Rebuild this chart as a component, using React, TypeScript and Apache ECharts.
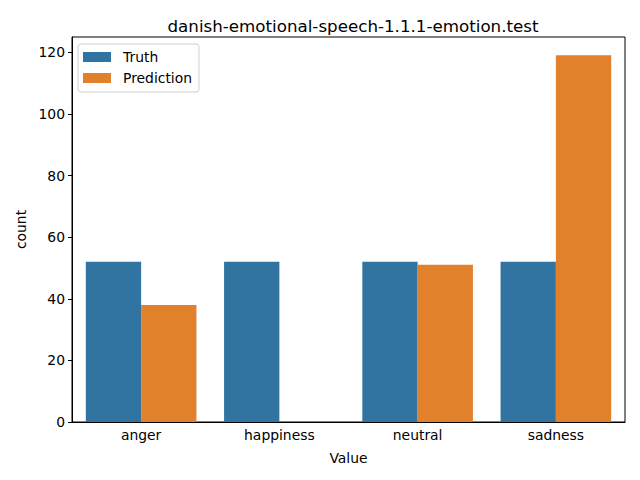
import React, { useEffect, useRef } from "react";
import * as echarts from "echarts";

const categories = ["anger", "happiness", "neutral", "sadness"];
const truthValues = [52, 52, 52, 52];
const predictionValues = [38, 0, 51, 119];
const yTicks = { min: 0, max: 124.95, interval: 20 };

const FONT = "DejaVu Sans";

export default function App() {
  const ref = useRef<HTMLDivElement>(null);
  useEffect(() => {
    if (!ref.current) return;
    const chart = echarts.init(ref.current, null, { renderer: "svg" });
    chart.setOption({
      animation: false,
      backgroundColor: "#fff",
      textStyle: { fontFamily: FONT },
      title: {
        text: "danish-emotional-speech-1.1.1-emotion.test",
        left: 348,
        textAlign: "center",
        top: 12,
        textStyle: { fontFamily: FONT, fontSize: 16.7, fontWeight: "normal", color: "#000" },
      },
      legend: {
        orient: "vertical",
        left: 78,
        top: 44,
        padding: [6, 7, 7, 5],
        icon: "rect",
        itemWidth: 28,
        itemHeight: 10,
        itemGap: 7,
        borderColor: "#d0d0d0",
        borderWidth: 1,
        borderRadius: 3,
        backgroundColor: "rgba(255,255,255,0.8)",
        textStyle: { fontFamily: FONT, fontSize: 13.9, color: "#000", padding: [0, 0, 0, 7] },
        itemStyle: { borderWidth: 0 },
        data: ["Truth", "Prediction"],
      },
      grid: {
        left: 72,
        right: 15,
        top: 37,
        bottom: 58,
        show: true,
        borderColor: "#000",
        borderWidth: 1,
        backgroundColor: "transparent",
      },
      xAxis: {
        type: "category",
        data: categories,
        name: "Value",
        nameLocation: "middle",
        nameGap: 29,
        nameTextStyle: { fontFamily: FONT, fontSize: 13.9, color: "#000" },
        axisLine: { lineStyle: { color: "#000", width: 1 } },
        axisTick: { alignWithLabel: true, length: 4, lineStyle: { color: "#000" } },
        axisLabel: { fontFamily: FONT, fontSize: 13.9, color: "#000", margin: 6 },
        splitLine: { show: false },
      },
      yAxis: {
        type: "value",
        min: yTicks.min,
        max: yTicks.max,
        interval: yTicks.interval,
        name: "count",
        nameLocation: "middle",
        nameGap: 44,
        nameRotate: 90,
        nameTextStyle: { fontFamily: FONT, fontSize: 13.9, color: "#000" },
        axisLine: { show: true, lineStyle: { color: "#000", width: 1 } },
        axisTick: { show: true, length: 4, lineStyle: { color: "#000" } },
        axisLabel: {
          fontFamily: FONT,
          fontSize: 13.9,
          color: "#000",
          margin: 7,
          showMaxLabel: false,
          formatter: (v: number) => (v % 20 === 0 ? String(v) : ""),
        },
        splitLine: { show: false },
      },
      series: [
        {
          name: "Truth",
          type: "bar",
          data: truthValues,
          barGap: "0%",
          barCategoryGap: "20%",
          itemStyle: { color: "#3274a1" },
        },
        {
          name: "Prediction",
          type: "bar",
          data: predictionValues,
          barGap: "0%",
          barCategoryGap: "20%",
          itemStyle: { color: "#e1812c" },
        },
      ],
    });
    return () => chart.dispose();
  }, []);
  return <div ref={ref} style={{ width: 640, height: 480, margin: -8 }} />;
}
